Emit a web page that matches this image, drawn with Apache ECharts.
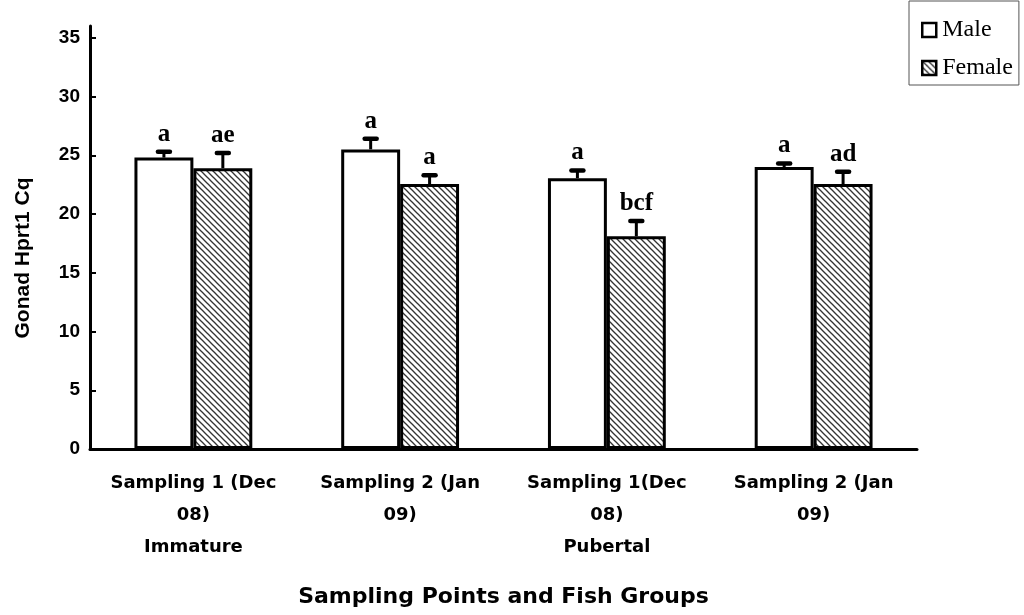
<!DOCTYPE html>
<html>
<head>
<meta charset="utf-8">
<script src="https://cdn.jsdelivr.net/npm/echarts@6/dist/echarts.min.js"></script>
<style>html,body{margin:0;padding:0;background:#fff;}#c{width:1024px;height:615px;}</style>
</head>
<body>
<div id="c"></div>
<script>
const categories = ['Sampling 1 (Dec\n08)\nImmature', 'Sampling 2 (Jan\n09)', 'Sampling 1(Dec\n08)\nPubertal', 'Sampling 2 (Jan\n09)'];
const maleMean = [24.8, 25.5, 23.05, 24.0];
const maleErr = [0.5, 0.9, 0.65, 0.3];
const femaleMean = [23.9, 22.55, 18.1, 22.55];
const femaleErr = [1.3, 0.75, 1.3, 1.05];
const maleLetters = ['a', 'a', 'a', 'a'];
const femaleLetters = ['ae', 'a', 'bcf', 'ad'];
const yTicks = [0, 5, 10, 15, 20, 25, 30, 35];
const yMax = 36;

// hatch pattern
const tile = document.createElement('canvas');
tile.width = 6; tile.height = 6;
const tc = tile.getContext('2d');
tc.fillStyle = '#fff'; tc.fillRect(0, 0, 6, 6);
tc.strokeStyle = '#333'; tc.lineWidth = 1.3;
[[-6, 0], [0, 0], [6, 0]].forEach(function (o) {
  tc.beginPath(); tc.moveTo(o[0] - 1, -1); tc.lineTo(o[0] + 7, 7); tc.stroke();
});
const hatch = { image: tile, repeat: 'repeat' };

const SANS = '"DejaVu Sans"';
const ARIAL = '"Liberation Sans"';
const SERIF = '"Liberation Serif"';

function errRender(sign, errs, letters) {
  return function (params, api) {
    const i = api.value(0);
    const mean = api.value(1);
    const err = errs[params.dataIndex];
    const base = api.coord([i, mean]);
    const top = api.coord([i, mean + err]);
    const band = api.size([1, 0])[0];
    const barW = band * 0.57 / 2;
    const cx = base[0] + sign * barW / 2;
    return {
      type: 'group',
      children: [
        { type: 'line', shape: { x1: cx, y1: base[1], x2: cx, y2: top[1] }, style: { stroke: '#000', lineWidth: 3 } },
        { type: 'line', shape: { x1: cx - 6, y1: top[1], x2: cx + 6, y2: top[1] }, style: { stroke: '#000', lineWidth: 4.5, lineCap: 'round' } },
        { type: 'text', x: cx, y: top[1] - 5, style: { text: letters[params.dataIndex], font: 'bold 25px ' + SERIF, fill: '#000', align: 'center', verticalAlign: 'bottom' } }
      ]
    };
  };
}

const chart = echarts.init(document.getElementById('c'), null, { renderer: 'canvas' });
chart.setOption({
  animation: false,
  backgroundColor: '#fff',
  grid: { left: 90, right: 107, top: 26, bottom: 166, containLabel: false },
  legend: {
    data: ['Male', 'Female'],
    orient: 'vertical',
    left: 909, top: 1,
    padding: [17, 6, 5, 12],
    itemWidth: 14, itemHeight: 14, itemGap: 14,
    borderColor: '#555', borderWidth: 1,
    icon: 'rect',
    itemStyle: { borderColor: '#000', borderWidth: 2.5 },
    textStyle: { fontFamily: SERIF, fontSize: 24, color: '#000', padding: [0, 0, 0, 1] }
  },
  xAxis: {
    type: 'category',
    data: categories,
    name: 'Sampling Points and Fish Groups',
    nameLocation: 'middle',
    nameGap: 148,
    nameTextStyle: { fontFamily: SANS, fontWeight: 'bold', fontSize: 22, color: '#000', verticalAlign: 'middle' },
    axisLine: { lineStyle: { color: '#000', width: 3 } },
    axisTick: { inside: true, length: 6, lineStyle: { color: '#000', width: 2 } },
    axisLabel: { fontFamily: SANS, fontWeight: 'bold', fontSize: 18, color: '#000', lineHeight: 32, margin: 18, interval: 0 }
  },
  yAxis: {
    type: 'value',
    min: 0, max: yMax,
    splitLine: { show: false },
    axisLine: { show: true, lineStyle: { color: '#000', width: 3 } },
    axisTick: { show: true, inside: true, length: 6, customValues: yTicks, lineStyle: { color: '#000', width: 2 } },
    axisLabel: { customValues: yTicks, fontFamily: ARIAL, fontWeight: 'bold', fontSize: 19, color: '#000', margin: 10 }
  },
  graphic: [{
    type: 'text', x: 23, y: 258, rotation: Math.PI / 2,
    style: { text: 'Gonad Hprt1 Cq', font: 'bold 21px ' + ARIAL, fill: '#000', align: 'center', verticalAlign: 'middle' }
  }],
  series: [
    { name: 'Male', type: 'bar', data: maleMean, barGap: '0%', barCategoryGap: '43%',
      itemStyle: { color: '#fff', borderColor: '#000', borderWidth: 3 } },
    { name: 'Female', type: 'bar', data: femaleMean, barGap: '0%', barCategoryGap: '43%',
      itemStyle: { color: hatch, borderColor: '#000', borderWidth: 3 } },
    { name: 'maleErr', type: 'custom', z: 5, data: maleMean.map(function (v, i) { return [i, v]; }),
      renderItem: errRender(-1, maleErr, maleLetters) },
    { name: 'femaleErr', type: 'custom', z: 5, data: femaleMean.map(function (v, i) { return [i, v]; }),
      renderItem: errRender(1, femaleErr, femaleLetters) }
  ]
});
</script>
</body>
</html>
